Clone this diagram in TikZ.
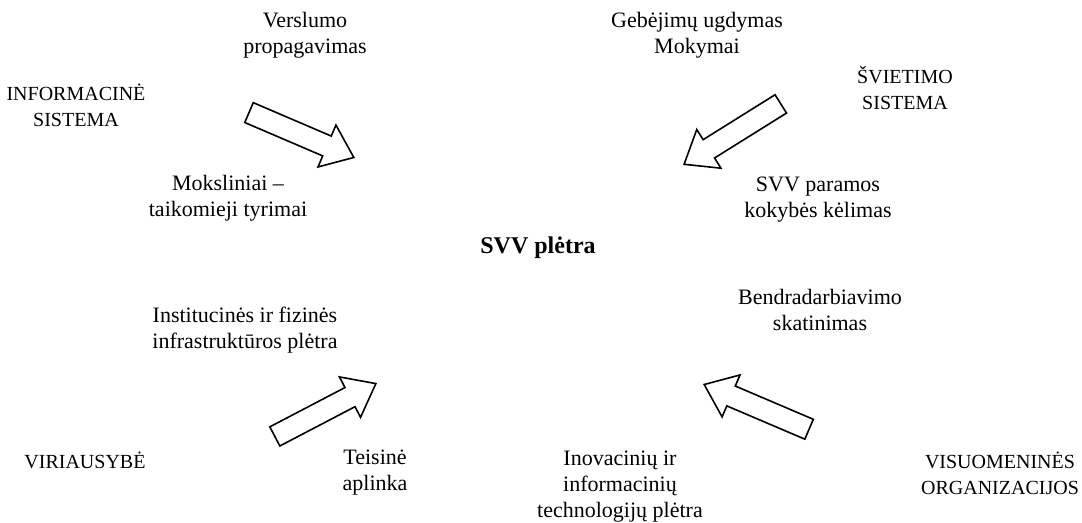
\documentclass[tikz,border=0pt]{standalone}
\usepackage{fontspec}
\setmainfont{Liberation Serif}
\usetikzlibrary{shapes,arrows,positioning}

\begin{document}
\begin{tikzpicture}[x=0.5pt, y=-0.5pt, font=\fontsize{11}{13}\selectfont,
    txt/.style={align=center, inner sep=0pt},
    caps/.style={txt, font=\fontsize{10}{13}\selectfont},
    bigarrow/.style={single arrow, draw, line width=0.8pt, fill=white, anchor=tip, inner xsep=0pt, inner ysep=5pt, minimum height=57pt, minimum width=22pt, single arrow head extend=6pt, single arrow tip angle=76}]
    \useasboundingbox (0,0) rectangle (1082,523);
    % centre
    \node[txt, font=\fontsize{12}{14}\selectfont\bfseries] (svv) at (538,248) {SVV plėtra};
    % top
    \node[txt] (verslumo) at (305,35) {Verslumo\\propagavimas};
    \node[txt] (gebejimai) at (697,35) {Gebėjimų ugdymas\\Mokymai};
    \node[caps] (informacine) at (76,105) {INFORMACINĖ\\SISTEMA};
    \node[caps] (svietimo) at (905,88) {ŠVIETIMO\\SISTEMA};
    \node[txt] (moksliniai) at (228,198) {Moksliniai --\\taikomieji tyrimai};
    \node[txt] (paramos) at (818,200) {SVV paramos\\kokybės kėlimas};
    % bottom
    \node[txt] (bendradarb) at (820,310) {Bendradarbiavimo\\skatinimas};
    \node[txt] (infrastr) at (245,330) {Institucinės ir fizinės\\infrastruktūros plėtra};
    \node[caps] (viriausybe) at (85,460) {VIRIAUSYBĖ};
    \node[txt] (teisine) at (375,473) {Teisinė\\aplinka};
    \node[txt] (inovaciniu) at (620,487) {Inovacinių ir\\informacinių\\technologijų plėtra};
    \node[caps] (visuomenines) at (1000,473) {VISUOMENINĖS\\ORGANIZACIJOS};
    % block arrows (placed by their tips)
    \node[bigarrow, rotate=-23.2] (infoarrow) at (355,158) {};
    \node[bigarrow, rotate=212] (svietarrow) at (683,165) {};
    \node[bigarrow, rotate=27.6] (vyriarrow) at (377,383) {};
    \node[bigarrow, rotate=156.9] (visuarrow) at (703,384) {};
\end{tikzpicture}
\end{document}
